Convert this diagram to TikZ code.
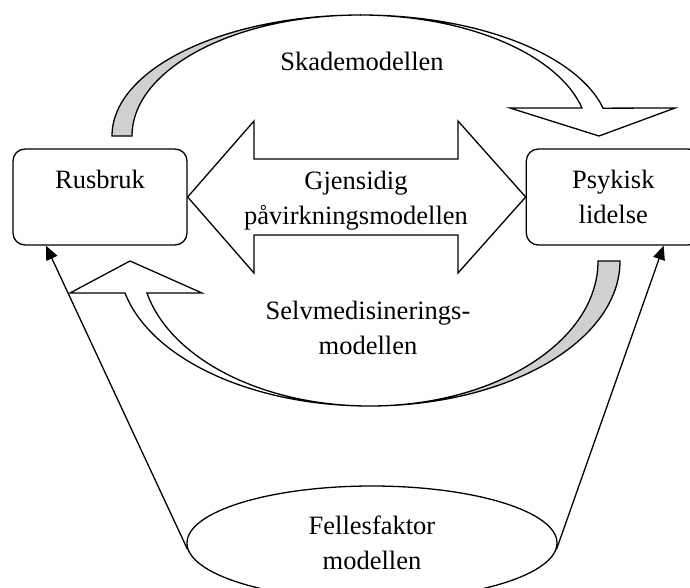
\documentclass[tikz,border=0pt]{standalone}
\usepackage{fontspec}
\setmainfont{Liberation Serif}
\usetikzlibrary{arrows.meta,positioning,shapes.geometric}
\definecolor{tailgray}{RGB}{208,208,208}
\tikzset{
	factor/.style={
		rectangle, draw, rounded corners=12pt,
		minimum width=174pt, minimum height=96pt,
		align=center, inner sep=0pt,
	},
	common/.style={
		ellipse, draw, minimum width=370pt, minimum height=114pt,
		align=center, inner sep=0pt,
	},
	caption/.style={align=center, inner sep=0pt},
	link/.style={
		draw, -{Triangle[length=14pt,width=12pt]},
	},
	band/.style={draw, line join=miter},
}

\begin{document}
\begin{tikzpicture}[x=1pt, y=-1pt, line width=1.3pt, font=\fontsize{26.5pt}{35pt}\selectfont, node distance=338pt]
	\clip (0,0) rectangle (690,587);

	\node [factor] (rus) at (100,197) {Rusbruk\\ \mbox{}};
	\node [factor, right=of rus] (psy) {Psykisk\\lidelse};
	\node [common] (fel) at (372,543) {Fellesfaktor\\modellen};

	% begge veier mellom boksene
	\draw [band, fill=white] (rus.east) -- (254,121) -- (254,159) -- (458,159)
		-- (458,121) -- (psy.west) -- (458,273) -- (458,235) -- (254,235) -- (254,273) -- cycle;

	% skade: rusbruk -> lidelse
	\draw [band, fill=tailgray] (112,136) arc[start angle=180, end angle=270, x radius=248.9, y radius=121]
		-- (360.1,15) arc[start angle=270, end angle=180, x radius=228.1, y radius=121] -- cycle;
	\draw [band, fill=white] (360.9,15) arc[start angle=270, end angle=346.7, x radius=248.9, y radius=121]
		-- (675,108) -- (599,136) -- (510,108) -- (582,108)
		arc[start angle=346.62, end angle=270, x radius=228.1, y radius=121] -- cycle;

	% selvmedisinering: lidelse -> rusbruk
	\draw [band, fill=tailgray] (620,261) arc[start angle=0, end angle=90, x radius=250.6, y radius=145]
		-- (369.7,406) arc[start angle=90, end angle=0, x radius=228.3, y radius=145] -- cycle;
	\draw [band, fill=white] (369.4,406) arc[start angle=90, end angle=167.25, x radius=250.6, y radius=145]
		-- (70,293) -- (130,261) -- (202,293) -- (147,293)
		arc[start angle=167.25, end angle=90, x radius=228.3, y radius=145] -- cycle;

	\node [caption] (harm) at (362,61) {Skademodellen};
	\node [caption] (mutual) at (356,201) {Gjensidig\\påvirkningsmodellen};
	\node [caption] (selfmed) at (368,328) {Selvmedisinerings-\\modellen};

	\path [link] (fel.182) -- (rus.222);
	\path [link] (fel.-2) -- (psy.316);
\end{tikzpicture}
\end{document}
